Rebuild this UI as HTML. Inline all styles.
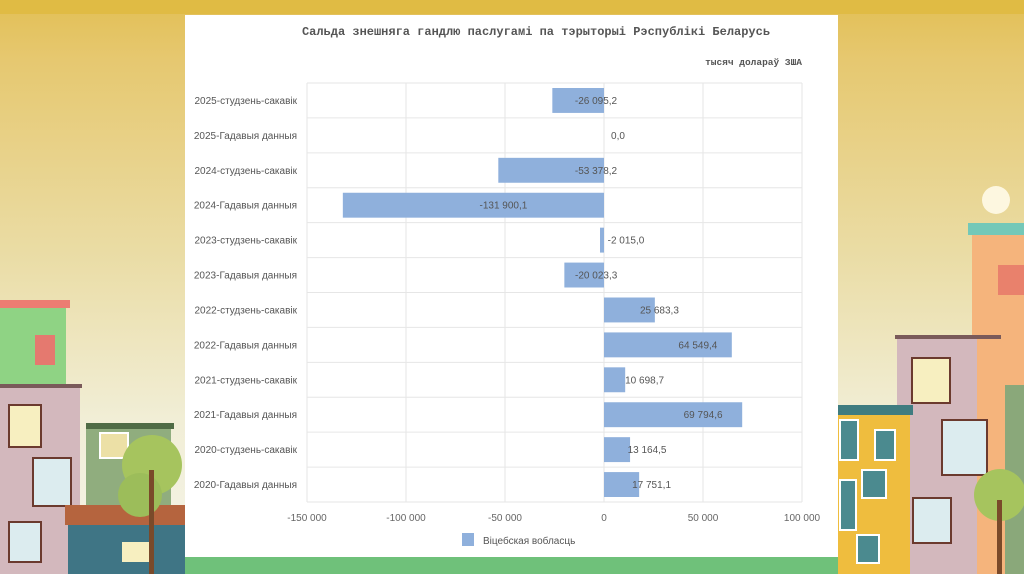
<!DOCTYPE html>
<html><head><meta charset="utf-8">
<style>
html,body{margin:0;padding:0;width:1024px;height:574px;overflow:hidden}
body{position:relative;background:linear-gradient(#e2bf55 0px,#e6c870 60px,#eadca4 250px,#f1eed6 420px,#f4f3e6 550px);font-family:"Liberation Sans",sans-serif}
svg{position:absolute;left:0;top:0}
</style></head><body>
<svg width="1024" height="574">
  <rect x="0" y="0" width="1024" height="14" fill="#e0bb44"/>
  <rect x="0" y="555" width="1024" height="19" fill="#6fc17a"/>
  <!-- left buildings -->
  <rect x="0" y="302" width="66" height="85" fill="#8fd384"/>
  <rect x="0" y="300" width="70" height="8" fill="#ec7d72"/>
  <rect x="35" y="335" width="20" height="30" fill="#e5796f"/>
  <rect x="0" y="385" width="80" height="190" fill="#d3b8bd"/>
  <rect x="0" y="384" width="82" height="4" fill="#7a5a5a"/>
  <rect x="9" y="405" width="32" height="42" fill="#f7efc0" stroke="#6b3a2e" stroke-width="2"/>
  <rect x="33" y="458" width="38" height="48" fill="#dcecef" stroke="#6b3a2e" stroke-width="2"/>
  <rect x="9" y="522" width="32" height="40" fill="#dcecef" stroke="#6b3a2e" stroke-width="2"/>
  <rect x="86" y="425" width="85" height="100" fill="#90ad7e"/>
  <rect x="86" y="423" width="88" height="6" fill="#4f6b45"/>
  <rect x="100" y="433" width="28" height="25" fill="#ece0a6" stroke="#fff" stroke-width="2"/>
  <rect x="65" y="505" width="120" height="20" fill="#b5643e"/>
  <rect x="68" y="525" width="117" height="50" fill="#3f7585"/>
  <rect x="122" y="542" width="30" height="20" fill="#f7efc0"/>
  <circle cx="152" cy="465" r="30" fill="#a6c45e"/>
  <circle cx="140" cy="495" r="22" fill="#9cbd5a"/>
  <rect x="149" y="470" width="5" height="104" fill="#7a4a2a"/>
  <!-- right buildings -->
  <circle cx="996" cy="200" r="14" fill="#fffbe8" opacity="0.9"/>
  <rect x="968" y="223" width="56" height="12" fill="#74c8b8"/>
  <rect x="972" y="235" width="52" height="340" fill="#f5b47c"/>
  <rect x="998" y="265" width="26" height="30" fill="#e9816c"/>
  <rect x="897" y="335" width="80" height="240" fill="#d3b8bd"/>
  <rect x="895" y="335" width="106" height="4" fill="#7a5a5a"/>
  <rect x="912" y="358" width="38" height="45" fill="#f7efc0" stroke="#6b3a2e" stroke-width="2"/>
  <rect x="942" y="420" width="45" height="55" fill="#dcecef" stroke="#6b3a2e" stroke-width="2"/>
  <rect x="913" y="498" width="38" height="45" fill="#dcecef" stroke="#6b3a2e" stroke-width="2"/>
  <rect x="1005" y="385" width="19" height="190" fill="#8aa87a"/>
  <rect x="838" y="405" width="72" height="170" fill="#efbd3e"/>
  <rect x="838" y="405" width="75" height="10" fill="#3f7c80"/>
  <rect x="840" y="420" width="18" height="40" fill="#4b8a8f" stroke="#fff" stroke-width="2"/>
  <rect x="875" y="430" width="20" height="30" fill="#4b8a8f" stroke="#fff" stroke-width="2"/>
  <rect x="862" y="470" width="24" height="28" fill="#4b8a8f" stroke="#fff" stroke-width="2"/>
  <rect x="840" y="480" width="16" height="50" fill="#4b8a8f" stroke="#fff" stroke-width="2"/>
  <rect x="857" y="535" width="22" height="28" fill="#4b8a8f" stroke="#fff" stroke-width="2"/>
  <circle cx="1000" cy="495" r="26" fill="#a6c45e"/>
  <rect x="997" y="500" width="5" height="74" fill="#7a4a2a"/>
  <!-- panel -->
  <rect x="185" y="15" width="653" height="542" fill="#ffffff"/>
</svg>
<svg id="chart" width="1024" height="574"></svg>
<script>
const categories=["2025-студзень-сакавік","2025-Гадавыя данныя","2024-студзень-сакавік","2024-Гадавыя данныя","2023-студзень-сакавік","2023-Гадавыя данныя","2022-студзень-сакавік","2022-Гадавыя данныя","2021-студзень-сакавік","2021-Гадавыя данныя","2020-студзень-сакавік","2020-Гадавыя данныя"];
const values=[-26095.2,0.0,-53378.2,-131900.1,-2015.0,-20023.3,25683.3,64549.4,10698.7,69794.6,13164.5,17751.1];
const ticks=[-150000,-100000,-50000,0,50000,100000];
const tickLabels=["-150 000","-100 000","-50 000","0","50 000","100 000"];
const seriesName="Віцебская вобласць";

const NS="http://www.w3.org/2000/svg";
const svg=document.getElementById('chart');
const L=307,R=802,T=83,B=502,xMin=-150000,xMax=100000;
const x=v=>L+(v-xMin)/(xMax-xMin)*(R-L);
const band=(B-T)/categories.length;
const y=i=>T+i*band;
function el(t,a,txt){const e=document.createElementNS(NS,t);for(const k in a)e.setAttribute(k,a[k]);if(txt!==undefined)e.textContent=txt;svg.appendChild(e);return e;}
function fmt(v){const s=Math.abs(v).toFixed(1).split('.');const i=s[0].replace(/\B(?=(\d{3})+(?!\d))/g,' ');return (v<0?'-':'')+i+','+s[1];}

const title=el('text',{x:536,y:35,'text-anchor':'middle','font-family':'Liberation Mono, monospace','font-size':'12','font-weight':'bold',fill:'#555'},'Сальда знешняга гандлю паслугамі па тэрыторыі Рэспублікі Беларусь');


const unit=el('text',{x:802,y:65,'text-anchor':'end','font-family':'Liberation Mono, monospace','font-size':'9.5','font-weight':'bold',fill:'#555'},'тысяч долараў ЗША');



ticks.forEach((t,k)=>{
  const g=el('line',{x1:x(t),x2:x(t),y1:T,y2:B,stroke:'#e6e6e6','stroke-width':1});
  
  
  const tl=el('text',{x:x(t),y:521,'text-anchor':'middle','font-size':'10',fill:'#666'},tickLabels[k]);
  
  
});
for(let i=0;i<=categories.length;i++){
  const h=el('line',{x1:L,x2:R,y1:y(i),y2:y(i),stroke:'#e6e6e6','stroke-width':1});
  
  
}
categories.forEach((c,i)=>{
  const cy=y(i)+band/2;
  const t=el('text',{x:297,y:cy+3.5,'text-anchor':'end','font-size':'10',fill:'#555'},c);
  
  
  const v=values[i];
  const x0=Math.min(x(0),x(v)),w=Math.abs(x(v)-x(0));
  const b=el('rect',{x:x0,y:y(i)+5,width:w,height:band-10,fill:'#8fb0dc'});
  
  
  let lx;
  if(v===0) lx=x(0)+14;
  else if(v>0) lx=x0+w/2+30;
  else if(w>150) lx=x0+w/2+30;
  else lx=Math.max(x0+w/2+12,x(0)-8);
  if(v<0&&w<20) lx=x(0)+22;
  const lb=el('text',{x:lx,y:cy+3.5,'text-anchor':'middle','font-size':'10',fill:'#555'},fmt(v));
  
  
});
const lr=el('rect',{x:462,y:533,width:12,height:13,fill:'#8fb0dc'});


const lt=el('text',{x:483,y:544,'font-size':'10',fill:'#555'},seriesName);


</script>
</body></html>
